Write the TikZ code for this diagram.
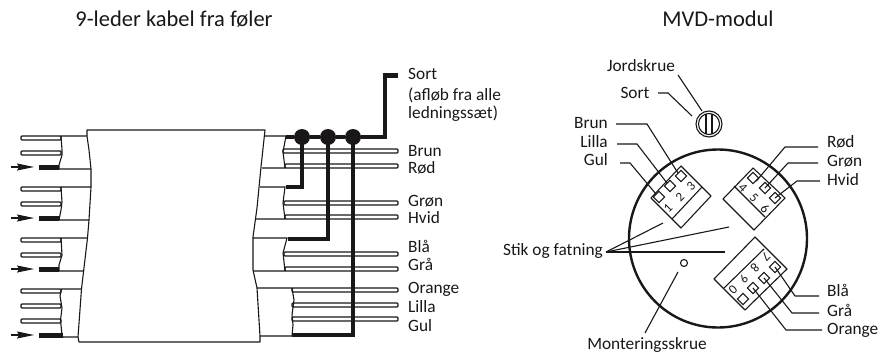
\documentclass[tikz,border=0pt]{standalone}
\usepackage{fontspec}
\setmainfont{Carlito}
\usetikzlibrary{arrows.meta}
\definecolor{ink}{HTML}{1A1718}
\tikzset{
  txt/.style={inner sep=0pt,font=\fontsize{17.3}{18}\selectfont,text=ink},
  ltxt/.style={txt,anchor=base west},
  rtxt/.style={txt,anchor=base east},
  ctxt/.style={txt,anchor=base},
  title/.style={inner sep=0pt,anchor=base,font=\fontsize{22.5}{24}\selectfont,text=ink},
  thin line/.style={draw=ink,line width=1.1pt},
  wirepair/.style={draw=ink,fill=white,line width=1.2pt,rounded corners=1pt},
  drain/.style={draw=ink,line width=5pt,line cap=butt},
  drainheavy/.style={draw=ink,line width=4.6pt,line join=miter},
  lead/.style={draw=ink,line width=1.1pt},
  pin/.style={draw=ink,fill=white,line width=1pt,minimum size=8pt,inner sep=0pt,rotate=45},
  num/.style={inner sep=0pt,font=\fontsize{13}{13}\selectfont,text=ink},
  dot/.style={circle,fill=ink,minimum size=16pt,inner sep=0pt},
  entry/.style={draw=ink,line width=1.1pt,-{Stealth[length=17pt,width=7pt,inset=2pt]}},
}
\begin{document}
\begin{tikzpicture}[x=1pt,y=-1pt]
\useasboundingbox (0,0) rectangle (878,353);
% titles
\node[title] (t1) at (174,27) {9-leder kabel fra føler};
\node[title] (t2) at (718,27) {MVD-modul};
% left wires
\foreach \y in {136,151,187,202,238,253,289,304,319}
  \draw[wirepair] (21,\y) rectangle (61,\y+4);
% left drains + arrows
\foreach \y in {167,218,269}{
  \draw[drain] (39,\y) -- (59,\y);
  \coordinate (as) at (11,\y); \coordinate (ae) at (34,\y);
  \draw[entry] (as) -- (ae);
}
\draw[drain] (39,335) -- (63,335);
\coordinate (as4) at (11,335); \coordinate (ae4) at (34,335);
\draw[entry] (as4) -- (ae4);
% body
\draw[thin line,line join=round] (87,136) -- (87,130) -- (265,130) -- (261,167) -- (257,208) -- (253,237) -- (253,270) -- (257,288) -- (260,336) -- (260,342) -- (79,342) -- (78,337) -- (81.5,289) -- (87.5,238) -- (89,220) -- (91,187) -- (91,169) -- (89,150) -- cycle;
% left jackets
\draw[thin line] (87,136) -- (61,136) -- (62,150) -- (62,155) -- (59,165) -- (59,169) -- (91,169);
\draw[thin line] (91,187) -- (61,187) -- (62,202) -- (61,210) -- (59,220) -- (89,220);
\draw[thin line] (87.5,238) -- (61,238) -- (62,255) -- (59,265) -- (59,271) -- (84,271);
\draw[thin line] (81.5,289) -- (61.5,289) -- (60,296) -- (62,308) -- (60.5,320) -- (62,335) -- (63,337) -- (78,337);
% right wires
\foreach \y/\x in {149/283,164/285,201/284,215/285,252/284,267/285,288/292,303/292,317/292}
  \draw[wirepair] (\x,\y) rectangle (398,\y+4);
% right jackets
\draw[thin line] (265,136) -- (286,136) -- (283,152) -- (285,168) -- (262,168);
\draw[thin line] (260,187) -- (285,187) -- (283,203) -- (285,219) -- (255,219);
\draw[thin line] (253,238) -- (287,238) -- (283,253) -- (285,271) -- (253,271);
\draw[thin line] (257,288) -- (292,288) -- (294,300) -- (292,315) -- (293,325) -- (292,336) -- (260,336);
% dots
\node[dot] (d1) at (302,137) {};
\node[dot] (d2) at (328,137) {};
\node[dot] (d3) at (353,137) {};
% heavy drain lines
\coordinate (e0) at (286,137);
\coordinate (e1) at (385,137);
\coordinate (e2) at (385,75.5);
\coordinate (e3) at (398,75.5);
\draw[drainheavy] (e0) -- (d1) -- (d2) -- (d3) -- (e1) -- (e2) -- (e3);
\coordinate (f1) at (286,187);
\draw[drainheavy] (d1.center) |- (f1);
\coordinate (f2) at (288,239);
\draw[drainheavy] (d2.center) |- (f2);
\coordinate (f3) at (292,335);
\draw[drainheavy] (d3.center) |- (f3);
% right labels of cable
\node[ltxt] (sort) at (408,80) {Sort};
\node[ltxt] (sort2) at (408,100) {(afløb fra alle};
\node[ltxt] (sort3) at (408,118) {ledningssæt)};
\node[ltxt] (c1) at (408,156) {Brun};
\node[ltxt] (c2) at (408,173.5) {Rød};
\node[ltxt] (c3) at (408,206.5) {Grøn};
\node[ltxt] (c4) at (408,223) {Hvid};
\node[ltxt] (c5) at (408,252) {Blå};
\node[ltxt] (c6) at (408,270.5) {Grå};
\node[ltxt] (c7) at (408,293.5) {Orange};
\node[ltxt] (c8) at (408,312.5) {Lilla};
\node[ltxt] (c9) at (408,331.5) {Gul};
% ===== module
\draw[draw=ink,line width=2.4pt] (718,238.5) circle[radius=89];
% screw
\node[circle,draw=ink,line width=1.1pt,minimum size=26pt,inner sep=0pt] (screw) at (709,124) {};
\draw[ink,line width=1.1pt] (709,124) circle[radius=10.5];
\draw[ink,line width=1.1pt] (706,113.8) -- (706,134.2) (712,113.8) -- (712,134.2);
\node[circle,draw=ink,line width=1.1pt,minimum size=7pt,inner sep=0pt] (mscrew) at (684,263) {};
% connector blocks
\draw[thin line,line join=round] (681,166) -- (711,196) -- (681,228) -- (651,198) -- cycle;
\draw[thin line] (702,187) -- (672,219);
\draw[thin line,line join=round] (753,168) -- (785,198) -- (754,230) -- (723,199) -- cycle;
\draw[thin line] (734,186) -- (765,217);
\draw[thin line,line join=round] (755,237) -- (787,269) -- (745,310) -- (714,279) -- cycle;
\draw[thin line] (764,249) -- (724,288);
% pins
\node[pin] (p3) at (681,176) {};
\node[pin] (p2) at (670,186) {};
\node[pin] (p1) at (659,197) {};
\node[pin] (p4) at (753,178) {};
\node[pin] (p5) at (765,188) {};
\node[pin] (p6) at (775,198) {};
\node[pin] (p7) at (775,267) {};
\node[pin] (p8) at (764,278) {};
\node[pin] (p9) at (753,288) {};
\node[pin] (p0) at (743,299) {};
% pin numbers
\node[num,rotate=45] (n1) at (668,208) {1};
\node[num,rotate=45] (n2) at (680,197) {2};
\node[num,rotate=45] (n3) at (691,186) {3};
\node[num,rotate=-45] (n4) at (743,188) {4};
\node[num,rotate=-45] (n5) at (754,198) {5};
\node[num,rotate=-45] (n6) at (765,209) {6};
\node[num,rotate=-135] (n7) at (766,257) {7};
\node[num,rotate=-135] (n8) at (755,268) {8};
\node[num,rotate=-135] (n9) at (744,279) {9};
\node[num,rotate=-135] (n0) at (733,290) {0};
% module labels
\node[ctxt] (jord) at (641,72) {Jordskrue};
\node[ctxt] (msort) at (635,98) {Sort};
\node[rtxt] (mbrun) at (608,128.5) {Brun};
\node[rtxt] (mlilla) at (608,147.5) {Lilla};
\node[rtxt] (mgul) at (608,165.5) {Gul};
\node[ltxt] (mrod) at (827,147.5) {Rød};
\node[ltxt] (mgron) at (827,166.5) {Grøn};
\node[ltxt] (mhvid) at (827,185.5) {Hvid};
\node[ltxt] (mbla) at (827,296.5) {Blå};
\node[ltxt] (mgra) at (827,316.5) {Grå};
\node[ltxt] (morange) at (827,334.5) {Orange};
\node[rtxt] (stik) at (603,255.5) {Stik og fatning};
\node[ctxt] (mont) at (647,349.5) {Monteringsskrue};
% leaders
\draw[lead] (678,75) -- (702,111);
\draw[lead] (658,93) -- (668,93) -- (692,116);
\draw[lead] (616,124) -- (647,124) -- (p3.north);
\draw[lead] (617,144) -- (637,144) -- (p2.north);
\draw[lead] (620,163) -- (630,163) -- (p1.north);
\draw[lead] (818,147) -- (785,147) -- (p4.south);
\draw[lead] (818,163) -- (788,163) -- (p5.center);
\draw[lead] (820,181) -- (797,181) -- (p6.center);
\draw[lead] (819,296) -- (795,296) -- (p7.center);
\draw[lead] (819,313) -- (792,313) -- (p8.center);
\draw[lead] (822,330) -- (786,330) -- (p9.center);
\coordinate (sj) at (606,252);
\draw[lead] (sj) -- (663,223);
\draw[lead] (sj) -- (729,227);
\draw[lead,line width=1.9pt] (sj) -- (725,252);
\draw[lead] (645,333) -- (678,272);
\end{tikzpicture}
\end{document}
